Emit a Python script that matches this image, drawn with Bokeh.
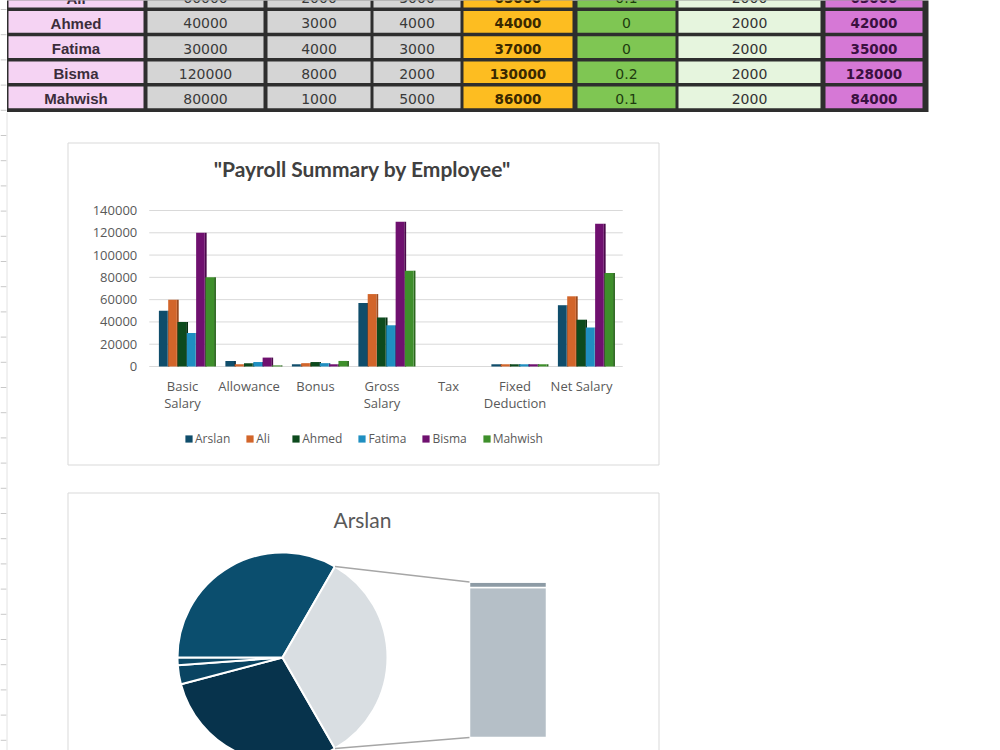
import numpy as np
from bokeh.plotting import figure
from bokeh.models import Range1d, ColumnDataSource, Legend, LegendItem
from bokeh.transform import dodge
from bokeh.core.properties import value
from bokeh.embed import file_html
from bokeh.resources import INLINE

# ---------------- data ----------------
employees = ["Arslan", "Ali", "Ahmed", "Fatima", "Bisma", "Mahwish"]
basic_salary = [50000, 60000, 40000, 30000, 120000, 80000]
allowance = [5000, 2000, 3000, 4000, 8000, 1000]
bonus = [2000, 3000, 4000, 3000, 2000, 5000]
gross_salary = [57000, 65000, 44000, 37000, 130000, 86000]
tax = [0.1, 0.1, 0, 0, 0.2, 0.1]
fixed_deduction = [2000, 2000, 2000, 2000, 2000, 2000]
net_salary = [55000, 63000, 42000, 35000, 128000, 84000]

categories = ["Basic Salary", "Allowance", "Bonus", "Gross Salary", "Tax",
              "Fixed Deduction", "Net Salary"]
category_labels = ["Basic\nSalary", "Allowance", "Bonus", "Gross\nSalary", "Tax",
                   "Fixed\nDeduction", "Net Salary"]
y_ticks = [0, 20000, 40000, 60000, 80000, 100000, 120000, 140000]
chart_title = '"Payroll Summary by Employee"'
pie_employee = "Arslan"

series_colors = ["#0f4d6b", "#d2652a", "#0d4a1d", "#1f8fc1", "#6f106f", "#3e8f2b"]
side_colors = ["#093247", "#9a4a1f", "#072f12", "#156a90", "#4a0a4a", "#2a661d"]
pie_colors = ["#07334c", "#0a4462", "#0c4866", "#0b4e6e", "#d9dee2"]
stack_colors = ["#b5bfc7", "#8d9ba5", "#7d8b95"]

# ---------------- page figure (pixel layout) ----------------
PW, PH = 1000, 750
p = figure(width=PW, height=PH, x_range=Range1d(0, PW), y_range=Range1d(PH, 0),
           output_backend="svg", toolbar_location=None, min_border=0,
           x_axis_location=None, y_axis_location=None)
p.grid.visible = False
p.outline_line_color = None
p.background_fill_color = "white"
p.border_fill_color = "white"

# ---------------- table strip at the top ----------------
PITCH = 25.2
TOP0 = -14.7
CELL_H = 21.7
col_left = [8, 147, 267, 373, 463, 577, 678, 825]
col_right = [143, 263, 370, 460, 572, 675, 820, 922]
col_fill = ["#f5d3f3", "#d5d5d5", "#d5d5d5", "#d5d5d5", "#fdbd21", "#7fc653", "#e6f5de", "#d678d6"]
col_styles = [
    ("Liberation Sans", "15px", "bold", "#3b2d3b"),
    ("DejaVu Sans", "14px", "normal", "#3a3a3a"),
    ("DejaVu Sans", "14px", "normal", "#3a3a3a"),
    ("DejaVu Sans", "14px", "normal", "#3a3a3a"),
    ("DejaVu Sans", "13.5px", "bold", "#3a2900"),
    ("DejaVu Sans", "14px", "normal", "#1e3b0f"),
    ("DejaVu Sans", "14px", "normal", "#333333"),
    ("DejaVu Sans", "13.5px", "bold", "#3a1040"),
]
table_columns = [employees, basic_salary, allowance, bonus, gross_salary, tax,
                 fixed_deduction, net_salary]
first_row = 1
nrows = len(employees) - first_row

# faint spreadsheet row marks at the far left
marks = [TOP0 + CELL_H + 2 + k * PITCH for k in range(30)]
p.segment(x0=0, x1=6, y0=marks, y1=marks, line_color="#c8c8c8", line_width=1)
p.segment(x0=6.5, x1=6.5, y0=112, y1=PH, line_color="#e2e2e2", line_width=1)

p.quad(left=6.5, right=928, top=-20, bottom=111.5, fill_color="#2e2e2e", line_color=None)
cl, cr, ct, cb, cc = [], [], [], [], []
for c in range(len(table_columns)):
    for r in range(nrows):
        cl.append(col_left[c]); cr.append(col_right[c])
        ct.append(TOP0 + r * PITCH); cb.append(TOP0 + r * PITCH + CELL_H)
        cc.append(col_fill[c])
p.quad(source=ColumnDataSource(dict(l=cl, r=cr, t=ct, b=cb, c=cc)),
       left="l", right="r", top="t", bottom="b", fill_color="c", line_color=None)
for c, col in enumerate(table_columns):
    vals = col[first_row:]
    texts = [v if isinstance(v, str) else f"{v:g}" for v in vals]
    xs = [(col_left[c] + col_right[c]) / 2] * len(texts)
    ys = [TOP0 + r * PITCH + CELL_H / 2 + 1.5 for r in range(len(texts))]
    font, size, style, color = col_styles[c]
    p.text(x=xs, y=ys, text=texts, text_font=value(font), text_font_size=size,
           text_font_style=style, text_color=color, text_align="center",
           text_baseline="middle")

# ---------------- clustered column chart ----------------
BOX1 = dict(left=67.5, right=658.5, top=142.5, bottom=464.5)
p.quad(fill_color="white", line_color="#d9d9d9", line_width=1, **BOX1)
p.text(x=[362], y=[168], text=[chart_title], text_font=value("Lato"),
       text_font_style="bold", text_font_size="21px", text_color="#404040",
       text_align="center", text_baseline="middle")

CAT_X0, CAT_W = 182, 66.5          # pixel centre of first category, pixel step
ZERO_Y, TOP_Y = 366, 210           # pixel rows of the lowest and highest tick
VPP = (y_ticks[-1] - y_ticks[0]) / (ZERO_Y - TOP_Y)
p.extra_x_ranges["bx"] = Range1d(-CAT_X0 / CAT_W, (PW - CAT_X0) / CAT_W)
p.extra_y_ranges["by"] = Range1d(y_ticks[0] - (PH - ZERO_Y) * VPP, y_ticks[0] + ZERO_Y * VPP)

ncat = len(categories)
grid_x1 = ncat - 0.38
p.segment(x0=-0.5, x1=grid_x1, y0=y_ticks, y1=y_ticks, x_range_name="bx",
          y_range_name="by", line_color="#d9d9d9", line_width=1)
p.text(x=[-0.5 - 12 / CAT_W] * len(y_ticks), y=y_ticks, text=[str(t) for t in y_ticks],
       x_range_name="bx", y_range_name="by", text_font=value("Open Sans"),
       text_font_size="13px", text_color="#595959", text_align="right",
       text_baseline="middle")
p.text(x=list(range(ncat)), y=[-10 * VPP] * ncat, text=category_labels,
       x_range_name="bx", y_range_name="by", text_font=value("Open Sans"),
       text_font_size="13px", text_color="#595959", text_align="center",
       text_baseline="top", text_line_height=0.95)

cat_values = [basic_salary, allowance, bonus, gross_salary, tax, fixed_deduction, net_salary]
PB, SHIFT, W, SIDE = 0.14, 0.06, 0.13, 0.028
legend_items = []
for i, name in enumerate(employees):
    src = ColumnDataSource(dict(idx=list(range(ncat)), val=[cv[i] for cv in cat_values]))
    off = (i - 2.5) * PB + SHIFT
    p.vbar(x=dodge("idx", off + W / 2 + SIDE / 2), width=SIDE, top="val", bottom=0,
           source=src, x_range_name="bx", y_range_name="by",
           fill_color=side_colors[i], line_color=None)
    r = p.vbar(x=dodge("idx", off), width=W, top="val", bottom=0, source=src,
               x_range_name="bx", y_range_name="by",
               fill_color=series_colors[i], line_color=None)
    legend_items.append(LegendItem(label=name, renderers=[r]))

legend = Legend(items=legend_items, orientation="horizontal", location=(184, PH - 447),
                glyph_width=9, glyph_height=9, label_standoff=2, spacing=15, padding=0,
                margin=0, border_line_color=None, background_fill_alpha=0,
                label_text_font="Open Sans", label_text_font_size="12px",
                label_text_color="#595959", label_height=14)
p.add_layout(legend)

# ---------------- pie of bar ----------------
p.line(x=[67.5, 67.5, 658.5, 658.5], y=[PH, 492.5, 492.5, PH], line_color="#d9d9d9",
       line_width=1)
p.text(x=[362], y=[519], text=[pie_employee], text_font=value("Lato"),
       text_font_size="21px", text_color="#595959", text_align="center",
       text_baseline="middle")

p.extra_y_ranges["up"] = Range1d(0, PH)          # y measured upwards for the pie
PIE_CX, PIE_CY, PIE_R = 282, PH - 657, 105
BAR_CX, BAR_W, BAR_BOTTOM, BAR_PX = 507.5, 77, 737, 155.5

i0 = employees.index(pie_employee)
primary_vals = [basic_salary[i0], allowance[i0], bonus[i0], gross_salary[i0]]
secondary_vals = [net_salary[i0], fixed_deduction[i0], tax[i0]]
other = sum(secondary_vals)
total = sum(primary_vals) + other
ang = np.array(primary_vals + [other]) / total * 2 * np.pi
half = ang[-1] / 2
bounds = -half - np.concatenate([[0], np.cumsum(ang[:-1])])
starts = list(bounds[1:]) + [-half]
ends = list(bounds[:-1]) + [half]
p.wedge(x=PIE_CX, y=PIE_CY, radius=PIE_R, y_range_name="up",
        source=ColumnDataSource(dict(s=starts, e=ends, c=pie_colors)),
        start_angle="s", end_angle="e", fill_color="c", line_color="white", line_width=2)

K = BAR_PX / other
p.extra_y_ranges["stack"] = Range1d(-(PH - BAR_BOTTOM) / K, BAR_BOTTOM / K)
sb = np.concatenate([[0], np.cumsum(secondary_vals)[:-1]])
st = np.cumsum(secondary_vals)
p.vbar(x=BAR_CX, width=BAR_W, bottom=sb, top=st, y_range_name="stack",
       fill_color=stack_colors, line_color="white", line_width=1.5)

px = PIE_CX + PIE_R * np.cos(half)
bx = BAR_CX - BAR_W / 2
bar_bottom_up = PH - BAR_BOTTOM
p.segment(x0=[px, px], y0=[PIE_CY + PIE_R * np.sin(half), PIE_CY - PIE_R * np.sin(half)],
          x1=[bx, bx], y1=[bar_bottom_up + other * K, bar_bottom_up],
          y_range_name="up", line_color="#a6a6a6", line_width=1.5)

open("out.html", "w").write(file_html(p, INLINE, title="Payroll Summary"))
